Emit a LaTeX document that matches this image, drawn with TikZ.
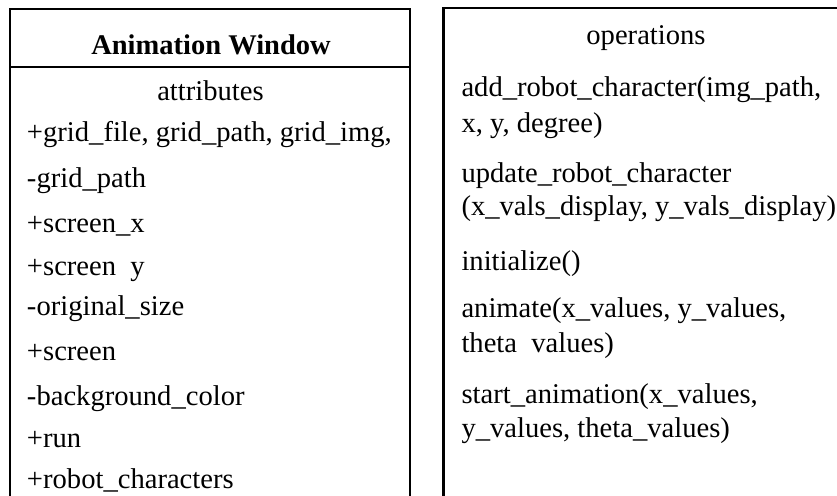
\documentclass[tikz,border=0pt]{standalone}
\usepackage{fontspec}
\setmainfont{Liberation Serif}
\begin{document}
\begin{tikzpicture}[x=1pt,y=-1pt,
  frame/.style={draw=black,line width=2.6pt},
  txt/.style={inner sep=0pt,outer sep=0pt,anchor=base west,font=\fontsize{28.6}{30}\selectfont},
  ctr/.style={inner sep=0pt,outer sep=0pt,anchor=base,font=\fontsize{28.6}{30}\selectfont},
  ttl/.style={ctr,font=\fontsize{28.5}{30}\selectfont\bfseries}]
\useasboundingbox (0,0) rectangle (837,495);
\begin{scope}
\clip (0,0) rectangle (837,495);
% class box: name compartment and attribute compartment
\coordinate (lbTL) at (10,9);
\coordinate (lbTR) at (410,9);
\coordinate (lbBL) at (10,520);
\coordinate (lbBR) at (410,520);
\coordinate (divL) at (10,67);
\coordinate (divR) at (410,67);
\draw[frame] (lbBL) -- (lbTL) -- (lbTR) -- (lbBR);
\draw[frame] (divL) -- (divR);
% operations box
\coordinate (rbBL) at (443.5,520);
\coordinate (rbTL) at (443.5,8);
\coordinate (rbTR) at (860,8);
\draw[frame] (rbBL) -- (rbTL) -- (rbTR);
\end{scope}

% name and attributes
\node[ttl] (title) at (211,55) {Animation Window};
\node[ctr] (attrhead) at (210.5,100) {attributes};
\node[txt] (a1) at (27,141) {+grid\_file, grid\_path, grid\_img,};
\node[txt] (a2) at (27,187) {-grid\_path};
\node[txt] (a3) at (27,232) {+screen\_x};
\node[txt] (a4) at (27,275) {+screen\hphantom{\_}y};
\node[txt] (a5) at (27,315) {-original\_size};
\node[txt] (a6) at (27,360) {+screen};
\node[txt] (a7) at (27,405) {-background\_color};
\node[txt] (a8) at (27,447) {+run};
\node[txt] (a9) at (27,488) {+robot\_characters};

% operations
\node[ctr] (ophead) at (646,45) {operations};
\node[txt] (o1a) at (461.5,96) {add\_robot\_character(img\_path,};
\node[txt] (o1b) at (461.5,132) {x, y, degree)};
\node[txt] (o2a) at (461.5,182) {update\_robot\_character};
\node[txt] (o2b) at (461.5,215) {(x\_vals\_display, y\_vals\_display)};
\node[txt] (o3) at (461.5,270) {initialize()};
\node[txt] (o4a) at (461.5,317) {animate(x\_values, y\_values,};
\node[txt] (o4b) at (461.5,352) {theta\hphantom{\_}values)};
\node[txt] (o5a) at (461.5,403) {start\_animation(x\_values,};
\node[txt] (o5b) at (461.5,437) {y\_values, theta\_values)};
\end{tikzpicture}
\end{document}
